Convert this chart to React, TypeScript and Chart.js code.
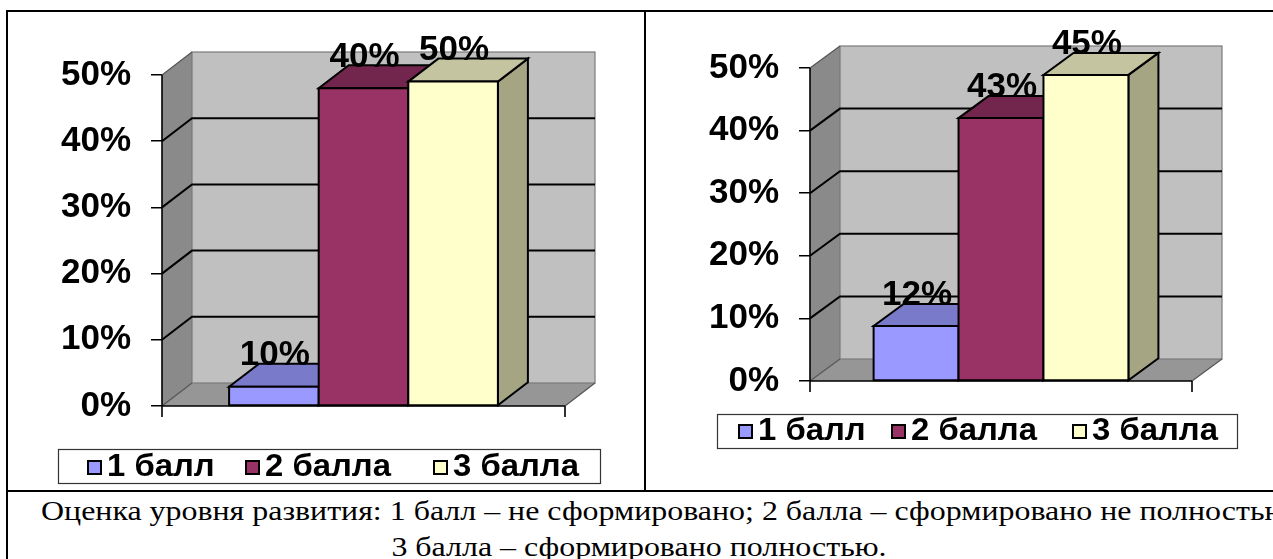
import React, { useEffect, useRef } from 'react';
import { Chart, registerables } from 'chart.js';

Chart.register(...registerables);

// ---------- data ----------
const seriesNames = ['1 балл', '2 балла', '3 балла'];
const leftValues = [2.9, 48.0, 49.0];
const leftLabels = ['10%', '40%', '50%'];
const rightValues = [8.8, 42.0, 48.9];
const rightLabels = ['12%', '43%', '45%'];
const yTicks = [0, 10, 20, 30, 40, 50];
const captionLine1 =
  'Оценка уровня развития: 1 балл – не сформировано; 2 балла – сформировано не полностью;';
const captionLine2 = '3 балла – сформировано полностью.';

// ---------- styles ----------
const frontColors = ['#9999ff', '#993366', '#ffffcc'];
const topColors = ['#7a7acb', '#73264d', '#c4c4a0'];
const sideColors = ['#6a6ab0', '#5c1f3d', '#a5a584'];
const FONT = "'Liberation Sans', Arial, sans-serif";

function poly(ctx: CanvasRenderingContext2D, pts: number[][], fill?: string, stroke?: string, lw = 2) {
  ctx.beginPath();
  ctx.moveTo(pts[0][0], pts[0][1]);
  for (let i = 1; i < pts.length; i++) ctx.lineTo(pts[i][0], pts[i][1]);
  ctx.closePath();
  if (fill) {
    ctx.fillStyle = fill;
    ctx.fill();
  }
  if (stroke) {
    ctx.strokeStyle = stroke;
    ctx.lineWidth = lw;
    ctx.stroke();
  }
}

const threeD = {
  id: 'threeD',
  beforeDatasetsDraw(chart: any, _args: any, opts: any) {
    const { ctx } = chart;
    const { left: L, right: R } = chart.chartArea;
    const ys = chart.scales.y;
    const dx = opts.dx;
    const dy = opts.dy;
    const y0 = ys.getPixelForValue(ys.min);
    const yM = ys.getPixelForValue(ys.max);
    ctx.save();
    ctx.lineJoin = 'miter';
    // back wall
    ctx.fillStyle = '#c0c0c0';
    ctx.fillRect(L + dx, yM - dy, R - L, y0 - yM);
    // side wall
    poly(ctx, [[L, y0], [L + dx, y0 - dy], [L + dx, yM - dy], [L, yM]], '#8a8a8a');
    // floor
    poly(ctx, [[L, y0], [R, y0], [R + dx, y0 - dy], [L + dx, y0 - dy]], '#969696');
    // wall edges
    ctx.strokeStyle = '#7a7a7a';
    ctx.lineWidth = 1.2;
    ctx.strokeRect(L + dx, yM - dy, R - L, y0 - yM);
    ctx.beginPath();
    ctx.moveTo(L, yM);
    ctx.lineTo(L + dx, yM - dy);
    ctx.moveTo(L, y0);
    ctx.lineTo(L + dx, y0 - dy);
    ctx.moveTo(R, y0);
    ctx.lineTo(R + dx, y0 - dy);
    ctx.strokeStyle = '#555555';
    ctx.stroke();
    // gridlines
    ctx.strokeStyle = '#000000';
    ctx.lineWidth = 2;
    ys.ticks.forEach((t: any) => {
      if (t.value <= ys.min || t.value >= ys.max) return;
      const py = ys.getPixelForValue(t.value);
      ctx.beginPath();
      ctx.moveTo(L, py);
      ctx.lineTo(L + dx, py - dy);
      ctx.lineTo(R + dx, py - dy);
      ctx.stroke();
    });
    // axes
    ctx.beginPath();
    ctx.moveTo(L, yM);
    ctx.lineTo(L, y0 + 11);
    ctx.moveTo(L, y0);
    ctx.lineTo(R, y0);
    ctx.moveTo(R, y0);
    ctx.lineTo(R, y0 + 11);
    ctx.lineWidth = 1.6;
    ctx.stroke();
    ctx.restore();
  },
  afterDatasetsDraw(chart: any, _args: any, opts: any) {
    const { ctx } = chart;
    const dx = opts.dx;
    const dy = opts.dy;
    ctx.save();
    ctx.lineJoin = 'miter';
    const n = chart.data.datasets.length;
    const bars: any[] = [];
    for (let i = 0; i < n; i++) {
      const el = chart.getDatasetMeta(i).data[0];
      const p = el.getProps(['x', 'y', 'width', 'base'], true);
      bars.push(p);
      const l = p.x - p.width / 2;
      const r = p.x + p.width / 2;
      const t = p.y;
      const b = p.base;
      poly(ctx, [[r, t], [r + dx, t - dy], [r + dx, b - dy], [r, b]], sideColors[i], '#000', 2);
      poly(ctx, [[l, t], [r, t], [r + dx, t - dy], [l + dx, t - dy]], topColors[i], '#000', 2);
      poly(ctx, [[l, t], [r, t], [r, b], [l, b]], frontColors[i], '#000', 2);
    }
    // value labels
    ctx.fillStyle = '#000';
    ctx.font = `bold 35px ${FONT}`;
    ctx.textAlign = 'center';
    ctx.textBaseline = 'middle';
    bars.forEach((p, i) => {
      ctx.fillText(opts.labels[i], p.x + 1, p.y - 31);
    });
    ctx.restore();
  },
  afterDraw(chart: any, _args: any, opts: any) {
    const lg = opts.legend;
    if (!lg) return;
    const { ctx } = chart;
    ctx.save();
    const [bx, by, bw, bh] = lg.box;
    ctx.fillStyle = '#fff';
    ctx.fillRect(bx, by, bw, bh);
    ctx.strokeStyle = '#333';
    ctx.lineWidth = 1.2;
    ctx.strokeRect(bx + 0.5, by + 0.5, bw, bh);
    chart.data.datasets.forEach((ds: any, i: number) => {
      const mx = lg.markers[i];
      const s = 13;
      ctx.fillStyle = frontColors[i];
      ctx.fillRect(mx + 1, lg.cy - s / 2, s, s);
      ctx.strokeStyle = '#000';
      ctx.lineWidth = 2;
      ctx.strokeRect(mx + 1, lg.cy - s / 2, s, s);
      ctx.save();
      ctx.translate(mx + 20, lg.ty);
      ctx.scale(lg.sx, 1);
      ctx.fillStyle = '#000';
      ctx.font = `bold ${lg.size}px ${FONT}`;
      ctx.textAlign = 'left';
      ctx.textBaseline = 'middle';
      ctx.fillText(ds.label, 0, 0);
      ctx.restore();
    });
    ctx.restore();
  },
};

type PanelProps = {
  values: number[];
  labels: string[];
  width: number;
  height: number;
  axisW: number;
  pad: { top: number; right: number; bottom: number };
  dx: number;
  dy: number;
  legend: any;
  left: number;
  top: number;
};

function Panel(props: PanelProps) {
  const ref = useRef<HTMLCanvasElement | null>(null);
  useEffect(() => {
    if (!ref.current) return;
    const chart = new Chart(ref.current, {
      type: 'bar',
      data: {
        labels: [''],
        datasets: seriesNames.map((name, i) => ({
          label: name,
          data: [props.values[i]],
          backgroundColor: frontColors[i],
          borderColor: '#000',
          borderWidth: 2,
          categoryPercentage: 0.667,
          barPercentage: 1,
        })),
      },
      options: {
        responsive: false,
        animation: false,
        devicePixelRatio: 1,
        layout: { padding: { left: 0, top: props.pad.top, right: props.pad.right, bottom: props.pad.bottom } },
        plugins: {
          legend: { display: false },
          tooltip: { enabled: false },
          threeD: { dx: props.dx, dy: props.dy, labels: props.labels, legend: props.legend },
        } as any,
        scales: {
          x: { display: false },
          y: {
            min: 0,
            max: 50,
            afterBuildTicks: (s: any) => {
              s.ticks = yTicks.map((v) => ({ value: v }));
            },
            afterFit: (s: any) => {
              s.width = props.axisW;
            },
            ticks: {
              callback: (v: any) => v + '%',
              color: '#000',
              padding: 20,
              font: { family: FONT, size: 35, weight: 'bold' },
            },
            grid: { drawOnChartArea: false, drawTicks: true, tickLength: 11, color: '#000', lineWidth: 1.5 },
            border: { display: false },
          },
        },
      },
      plugins: [threeD],
    } as any);
    return () => chart.destroy();
  }, []);
  return (
    <canvas
      ref={ref}
      width={props.width}
      height={props.height}
      style={{ position: 'absolute', left: props.left, top: props.top, width: props.width, height: props.height }}
    />
  );
}

export default function App() {
  const line = (l: number, t: number, w: number, h: number) => (
    <div style={{ position: 'absolute', left: l, top: t, width: w, height: h, background: '#000' }} />
  );
  return (
    <div
      style={{
        position: 'absolute',
        left: 0,
        top: 0,
        width: 1273,
        height: 559,
        overflow: 'hidden',
        background: '#fff',
      }}
    >
      <Panel
        values={leftValues}
        labels={leftLabels}
        left={9}
        top={13}
        width={635}
        height={477}
        axisW={153}
        pad={{ top: 62, right: 79, bottom: 84 }}
        dx={30}
        dy={23}
        legend={{ box: [49, 436, 542, 34], markers: [78, 236, 424], cy: 454.5, ty: 454, size: 31, sx: 1.06 }}
      />
      <Panel
        values={rightValues}
        labels={rightLabels}
        left={647}
        top={13}
        width={626}
        height={477}
        axisW={163}
        pad={{ top: 55, right: 81, bottom: 109 }}
        dx={30}
        dy={22}
        legend={{ box: [70, 401, 520, 34], markers: [91, 244, 425], cy: 418.5, ty: 418, size: 31, sx: 1.06 }}
      />
      {line(6, 10, 1267, 2)}
      {line(6, 10, 2, 549)}
      {line(644, 10, 2, 481)}
      {line(6, 490, 1267, 2)}
      <div
        style={{
          position: 'absolute',
          left: 41,
          top: 494,
          whiteSpace: 'nowrap',
          fontFamily: "'Liberation Serif', 'Times New Roman', serif",
          fontSize: 28,
          lineHeight: '34px',
          transform: 'scaleX(1.14)',
          transformOrigin: '0 50%',
          color: '#000',
        }}
      >
        {captionLine1}
      </div>
      <div
        style={{
          position: 'absolute',
          left: 0,
          width: 1278,
          top: 530,
          textAlign: 'center',
          whiteSpace: 'nowrap',
          fontFamily: "'Liberation Serif', 'Times New Roman', serif",
          fontSize: 28,
          lineHeight: '34px',
          transform: 'scaleX(1.14)',
          transformOrigin: '639px 50%',
          color: '#000',
        }}
      >
        {captionLine2}
      </div>
    </div>
  );
}
